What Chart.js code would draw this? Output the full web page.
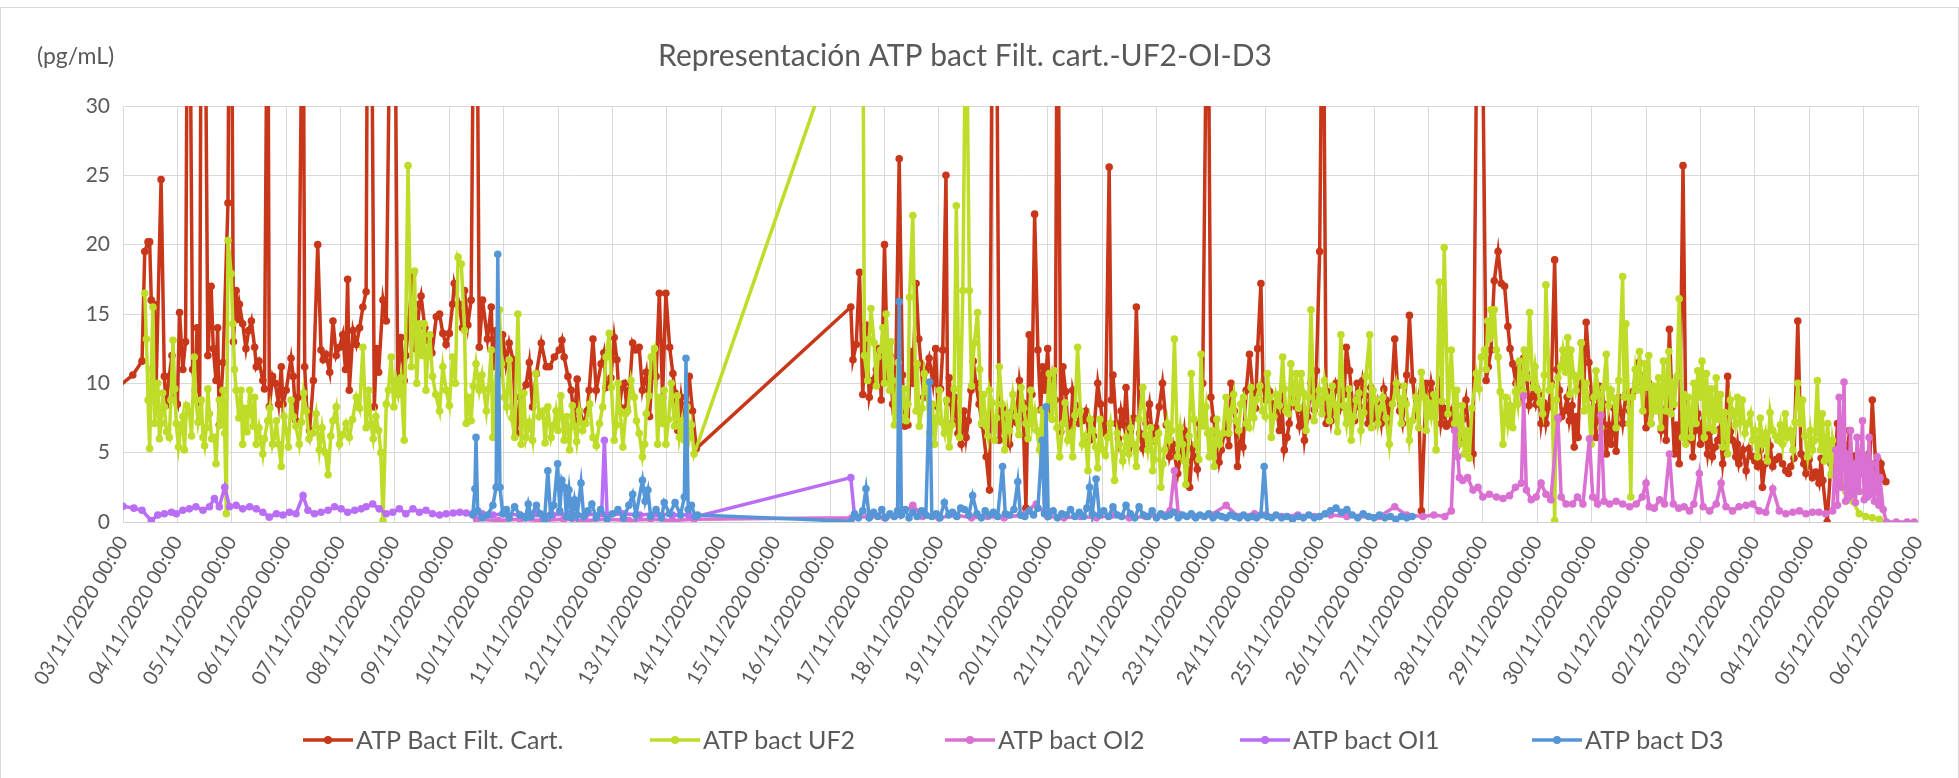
<!DOCTYPE html>
<html>
<head>
<meta charset="utf-8">
<script src="https://cdn.jsdelivr.net/npm/chart.js@4.4.1/dist/chart.umd.min.js"></script>
<style>
  html, body { margin: 0; padding: 0; background: #fff; }
  #wrap { width: 1959px; height: 778px; position: relative; }
</style>
</head>
<body>
<div id="wrap"><canvas id="grafico" width="1959" height="778"></canvas></div>
<script>
// Etiquetas del eje X (un tick por día, desde 03/11/2020)
const dayLabels = [
  '03/11/2020 00:00', '04/11/2020 00:00', '05/11/2020 00:00', '06/11/2020 00:00', '07/11/2020 00:00',
  '08/11/2020 00:00', '09/11/2020 00:00', '10/11/2020 00:00', '11/11/2020 00:00', '12/11/2020 00:00',
  '13/11/2020 00:00', '14/11/2020 00:00', '15/11/2020 00:00', '16/11/2020 00:00', '17/11/2020 00:00',
  '18/11/2020 00:00', '19/11/2020 00:00', '20/11/2020 00:00', '21/11/2020 00:00', '22/11/2020 00:00',
  '23/11/2020 00:00', '24/11/2020 00:00', '25/11/2020 00:00', '26/11/2020 00:00', '27/11/2020 00:00',
  '28/11/2020 00:00', '29/11/2020 00:00', '30/11/2020 00:00', '01/12/2020 00:00', '02/12/2020 00:00',
  '03/12/2020 00:00', '04/12/2020 00:00', '05/12/2020 00:00', '06/12/2020 00:00'
];
const yTicks = [0, 5, 10, 15, 20, 25, 30];

// Series: [días desde 03/11 00:00, pg/mL]  (se ordenan por tiempo al construir el gráfico)
const filtCart = [
  [-0.1,9.7],[0.18,10.6],[0.35,11.6],[0.4,19.5],[0.46,20.2],[0.49,20.2],[0.52,16],[0.57,15.7],[0.61,10],[0.7,24.7],
  [0.76,10.5],[0.79,8.4],[0.85,10.5],[0.95,9],[1.04,15.1],[1.1,11],[1.19,45],[1.22,45],[1.28,11],[1.41,8.6],
  [1.44,45],[1.5,45],[1.56,12],[1.62,17],[1.71,10.2],[1.77,7],[1.93,23],[1.96,45],[1.99,45],[2.08,16.7],
  [2.14,15.7],[2.2,14.3],[2.36,14.5],[2.42,12.6],[2.45,11.2],[2.57,10.2],[2.66,45],[2.69,8.3],[2.75,10.5],[2.91,11.2],
  [2.94,8.5],[3.09,11.8],[3.18,7.3],[3.31,45],[3.34,11.2],[3.43,6.6],[3.58,20],[3.64,12.4],[3.73,12.1],[3.86,14.5],
  [3.98,12.6],[4.13,17.5],[4.16,9.5],[4.23,13.8],[4.41,15.5],[4.47,16.6],[4.5,45],[4.56,45],[4.62,8.3],[4.78,16],
  [4.84,14.5],[4.93,45],[4.99,45],[5.05,10.2],[5.11,13.3],[5.17,10.2],[5.33,17.9],[5.45,15.7],[5.48,16.3],[5.6,13.1],
  [5.76,14.8],[5.88,13.6],[6,13.6],[6.06,15.7],[6.09,17.2],[6.18,15.7],[6.28,16.7],[6.4,16],[6.46,45],[6.5,45],
  [6.61,16],[6.77,15.5],[6.8,11.2],[6.92,10.7],[7.04,11.4],[7.17,11.7],[7.23,6.4],[7.41,9.9],[7.53,8.3],[7.69,12.9],
  [7.78,11.2],[7.84,11.2],[7.93,11.9],[8.02,12.4],[8.11,11.9],[8.18,10.5],[8.24,9.5],[8.3,7.3],[8.39,8],[8.48,7.1],
  [8.57,9.5],[8.64,13.2],[8.7,9.5],[8.79,11.4],[8.88,9.7],[8.97,10.4],[9.03,13.3],[9.13,8.3],[9.22,10],[9.31,9.5],
  [9.37,12.9],[9.43,12.4],[9.49,12.6],[9.55,9.5],[9.68,7.6],[9.8,10.5],[9.86,16.5],[9.92,9],[9.98,16.5],[10.05,12.6],
  [10.11,10.7],[10.2,6.6],[10.26,9],[10.32,7.1],[10.41,10.5],[10.47,8],[10.54,5.3],
  [13.38,15.5],[13.42,11.7],[13.54,18],[13.6,9.2],[13.72,9],[13.85,11],[13.94,8.8],[14,20],[14.06,10.2],[14.15,8.5],
  [14.27,26.2],[14.37,6.9],[14.43,7],[14.52,10],[14.58,17.2],[14.67,11.4],[14.76,10.9],[14.89,10],[14.98,8.3],[15.07,12.4],
  [15.13,25],[15.19,10.4],[15.25,7.1],[15.35,6.4],[15.41,5.6],[15.5,6.1],[15.59,9.5],[15.68,10],[15.87,4.7],[15.93,2.3],
  [15.99,45],[16.05,45],[16.11,5.9],[16.23,6.6],[16.36,8],[16.48,10.2],[16.6,1],[16.66,13.5],[16.76,22.2],[16.82,12.4],
  [16.91,11.2],[17,12.5],[17.09,10.2],[17.18,45],[17.28,11.2],[17.37,7.1],[17.46,9.5],[17.58,7.1],[17.64,7.3],[17.77,5.9],
  [17.92,10],[18.01,7.1],[18.13,25.6],[18.2,10.6],[18.26,7.1],[18.35,8],[18.44,9.7],[18.53,5.6],[18.63,15.5],[18.69,6.4],
  [18.81,7.1],[18.93,5.9],[19.05,8.3],[19.11,10],[19.24,4.7],[19.39,3.5],[19.51,6.6],[19.61,2.5],[19.7,4.7],[19.79,7.1],
  [19.85,10],[19.94,45],[20,9],[20.1,5.9],[20.19,5.2],[20.28,7.1],[20.37,10],[20.49,4],[20.59,5.4],[20.71,12.1],
  [20.77,9.5],[20.86,12.5],[20.92,17.2],[21.01,8.8],[21.14,7.8],[21.26,6.6],[21.35,5.2],[21.44,7.1],[21.57,8.3],[21.63,6.9],
  [21.72,5.9],[21.84,10],[21.94,10.9],[22,19.5],[22.06,45],[22.12,7.1],[22.21,7.3],[22.3,10],[22.39,8.3],[22.49,12.6],
  [22.55,10.9],[22.64,7.3],[22.73,8.3],[22.79,10.2],[22.89,7.1],[22.98,8.5],[23.07,8.5],[23.13,7.1],[23.22,8.8],[23.31,8.5],
  [23.38,13.2],[23.47,8],[23.56,8.8],[23.65,14.9],[23.71,10.2],[23.77,8],[23.87,0.8],[23.96,10],[24.05,10],[24.14,8.5],
  [24.23,7.1],[24.33,6.9],[24.39,7.1],[24.48,6.9],[24.57,5.9],[24.69,8.8],[24.82,4.9],[24.91,45],[24.97,45],[25.06,10.2],
  [25.15,12.4],[25.21,17.4],[25.28,19.5],[25.34,17.2],[25.4,17],[25.46,14.1],[25.55,11.4],[25.61,10],[25.7,9.5],[25.8,10.7],
  [25.89,9],[25.98,8.5],[26.07,7.1],[26.16,7.1],[26.26,10],[26.32,18.9],[26.41,9.5],[26.5,8],[26.59,7.3],[26.68,5.4],
  [26.75,6.1],[26.81,12.9],[26.9,14.4],[27,9],[27.08,6.1],[27.17,7.3],[27.27,4.9],[27.36,5.6],[27.45,5.1],[27.57,7.1],
  [27.7,8],[27.82,10],[27.91,10.5],[28,6.8],[28.09,7.1],[28.19,9.2],[28.28,6.6],[28.37,5.9],[28.43,13.9],[28.52,4.9],
  [28.61,4.2],[28.68,25.7],[28.77,5.9],[28.86,4.7],[28.95,7.8],[29.04,7.1],[29.13,4.9],[29.22,4.7],[29.32,5.9],[29.41,4.2],
  [29.5,10.5],[29.59,5.9],[29.65,4.7],[29.71,4.2],[29.84,3.7],[29.96,4.7],[30.05,4],[30.14,2.5],[30.23,4.7],[30.33,4],
  [30.45,4.7],[30.57,3.7],[30.66,4],[30.79,14.5],[30.85,4.9],[30.94,3.5],[31.06,3.2],[31.18,2.8],[31.25,3],[31.33,0],
  [31.4,4.2],[31.52,7.1],[31.64,5.6],[31.74,6.6],[31.8,3.5],[31.92,3.5],[32.04,4.7],[32.16,8.8],[32.23,3.5],[32.32,4.2],
  [32.41,2.9],
  [0.9,12],[1.0,8.5],[1.15,13],[1.33,9.5],[1.36,14],[1.66,12.5],[1.74,14],[1.84,11.5],[2.03,13],[2.11,14.6],
  [2.26,12.5],[2.31,13.8],[2.5,11.6],[2.6,9.6],[2.8,10],[2.86,8.5],[3.0,9.5],[3.13,10.5],[3.22,9],[3.38,8],
  [3.5,10.2],[3.68,11.7],[3.8,10.8],[3.92,12],[4.04,13.5],[4.09,11],[4.29,12.8],[4.35,14],[4.66,12.5],[4.7,10.8],
  [5.2,12],[5.25,14.4],[5.38,12.5],[5.55,14],[5.68,12.2],[5.82,15],[5.94,12.8],[6.24,14],[6.34,14.2],[6.55,12.6],
  [6.7,13.2],[6.86,13.8],[6.98,13.5],[7.1,12.9],[7.3,9],[7.47,11.5],[7.6,10.7],[8.07,13.1],[8.35,10.3],[8.53,8],
  [8.84,12.2],[9.08,11.7],[9.17,9.7],[9.26,8.3],[9.62,10.8],[9.74,11.5],[10.15,9.3],[10.36,8.5],
  [13.48,12.8],[13.66,14.2],[13.78,10.2],[13.9,12.5],[14.1,12],[14.2,9.3],[14.33,10.6],[14.48,12.3],[14.63,13.2],[14.72,9],
  [14.82,11.8],[14.94,12.5],[15.03,9.6],[15.16,8.6],[15.3,9],[15.46,8],[15.54,7.3],[15.63,11.6],[15.74,8.5],[15.8,7],
  [16.17,8.2],[16.3,5.6],[16.42,7.2],[16.54,8.6],[16.71,9.2],[16.87,8.1],[16.95,9.5],[17.05,7.8],[17.14,8.8],[17.24,6.5],
  [17.33,9.4],[17.42,6.2],[17.52,8.4],[17.7,8],[17.84,6.2],[17.97,8.5],[18.06,6.4],[18.17,8.8],[18.3,6],[18.4,7],
  [18.48,6.8],[18.58,7.5],[18.75,5.3],[18.87,8.5],[18.99,6.8],[19.18,7],[19.3,5.6],[19.45,5],[19.56,4.4],[19.66,5.3],
  [19.75,3.8],[20.05,7.4],[20.15,4.3],[20.24,6.3],[20.33,5.5],[20.43,8],[20.54,6.2],[20.65,9.5],[20.82,8.2],[20.96,9.7],
  [21.08,9.4],[21.2,8.6],[21.3,9.1],[21.4,6.1],[21.5,9.6],[21.68,8],[21.78,7.6],[21.9,8.1],
  [22.15,9.4],[22.25,8.4],[22.35,9.5],[22.45,9.2],[22.6,8.6],[22.69,10],[22.84,9.1],[22.94,9.7],[23.03,7.4],[23.18,9.6],
  [23.27,7.4],[23.43,9.8],[23.52,7.1],[23.6,10.6],[23.82,9],[24.0,8],[24.1,8.8],[24.19,9.6],[24.28,8.2],[24.44,8.1],
  [24.53,6.8],[24.63,7.4],[24.75,6.2],[25.1,11.2],[25.5,12.5],[25.65,11],[25.75,11.8],[25.85,8.4],[25.93,10],[26.03,9.2],
  [26.12,8.6],[26.21,8.3],[26.36,11],[26.45,7.6],[26.55,9],[26.64,8.4],[26.72,7.6],[26.86,10],[26.95,11.5],[27.04,8.3],
  [27.13,9.8],[27.22,8.5],[27.32,7],[27.41,8.2],[27.5,9],[27.63,9.2],[27.76,9.4],[27.87,11.5],[27.96,9.6],[28.05,10],
  [28.14,8.9],[28.24,8.5],[28.33,7.8],[28.48,8.3],[28.56,7],[28.73,7.6],[28.82,7.8],[28.9,6.6],[29.0,5.6],[29.09,6.2],
  [29.18,6.5],[29.27,5.4],[29.36,6.7],[29.45,5.4],[29.55,6.5],[29.68,5.6],[29.78,5.2],[29.9,5.3],[30.0,4.4],[30.1,5.2],
  [30.19,4.2],[30.28,5.5],[30.39,4.5],[30.51,4.2],[30.62,3.5],[30.72,4.6],[30.9,4.2],[31.0,4.5],[31.12,3.6],[31.22,4.6],
  [31.46,3.4],[31.58,3.8],[31.69,4.3],[31.86,4.8],[31.98,4],[32.1,3.2],[32.28,3.4]
];

const uf2 = [
  [0.4,16.5],[0.43,13.2],[0.46,8.8],[0.49,5.3],[0.55,15.5],[0.58,7.1],[0.64,10],[0.7,7.1],[0.76,8.3],[0.85,6.1],
  [0.92,13.1],[0.98,7.1],[1.07,6.9],[1.13,5.2],[1.22,8],[1.31,11.9],[1.34,8.8],[1.44,8.8],[1.47,6.1],[1.53,6.8],
  [1.59,7.8],[1.68,6.1],[1.71,4.2],[1.77,8.8],[1.84,9.5],[1.87,6.4],[1.9,0.6],[1.93,20.3],[1.99,17.9],[2.02,14.3],
  [2.08,9.5],[2.17,9.5],[2.2,5.6],[2.33,9.5],[2.39,6.9],[2.45,5.6],[2.57,4.9],[2.66,7.3],[2.75,5.6],[2.82,7.3],
  [2.91,4],[3,6.6],[3.09,8.8],[3.18,6.9],[3.24,5.6],[3.37,8],[3.49,6.4],[3.61,5.2],[3.77,3.4],[3.86,7.3],
  [3.98,5.6],[4.1,7.1],[4.16,6.1],[4.29,9],[4.41,12.6],[4.47,6.8],[4.56,7.1],[4.65,7.6],[4.74,5],[4.78,0.1],
  [4.84,8.5],[4.93,11.9],[5.02,10.2],[5.11,10.4],[5.17,5.9],[5.24,25.7],[5.3,11.2],[5.36,18.1],[5.45,14.3],[5.54,14.3],
  [5.6,11.9],[5.69,10.5],[5.82,8],[5.94,9.5],[6.06,11.9],[6.16,19.1],[6.22,18.6],[6.28,13.8],[6.31,7.1],[6.4,7.3],
  [6.49,11.4],[6.55,9.5],[6.68,8],[6.77,12.4],[6.8,6.1],[6.92,15.3],[7.01,9],[7.1,11.7],[7.2,6.1],[7.26,15],
  [7.32,5.6],[7.41,6.1],[7.53,5.9],[7.59,10.7],[7.72,8],[7.81,8.3],[7.87,6.1],[7.96,8],[8.05,9.1],[8.11,5.9],
  [8.21,5.2],[8.3,6.9],[8.39,8],[8.51,7.1],[8.64,6.1],[8.76,7.1],[8.82,8.3],[8.88,11.9],[8.94,13.6],[9.03,5.9],
  [9.1,10],[9.19,5.4],[9.28,8],[9.34,10.2],[9.4,9],[9.49,6.4],[9.55,4.7],[9.62,7.8],[9.71,11.9],[9.77,12.5],
  [9.83,5.6],[9.92,7.1],[9.98,5.6],[10.08,10],[10.14,6.9],[10.23,6.1],[10.32,5.9],[10.41,6.1],[10.5,4.9],
  [13.6,40],[13.63,12],[13.69,10.2],[13.75,15.4],[13.81,12.9],[13.88,11.9],[13.97,14],[14.03,15],[14.09,9.5],[14.15,10.2],
  [14.21,8],[14.3,7.6],[14.4,7.3],[14.46,16.2],[14.52,22.1],[14.58,8],[14.64,6.9],[14.73,10.7],[14.83,6.4],[14.92,5.6],
  [15.01,9.5],[15.1,6.4],[15.19,5.4],[15.32,22.8],[15.38,6.1],[15.44,16.7],[15.5,40],[15.56,16.7],[15.65,12.9],[15.71,15.1],
  [15.78,7.1],[15.87,6.9],[15.93,9.5],[16.02,5.9],[16.11,11.2],[16.21,5.2],[16.3,6.6],[16.42,7.6],[16.51,9.7],[16.6,7.1],
  [16.69,9.5],[16.76,8],[16.85,5.2],[16.94,5.6],[17.03,10.7],[17.12,10.9],[17.22,4.7],[17.28,7.1],[17.37,5.9],[17.46,4.7],
  [17.55,12.6],[17.64,5.6],[17.74,3.7],[17.83,6.6],[17.92,3.9],[18.01,5.2],[18.1,6.1],[18.23,3],[18.32,5.6],[18.44,6.1],
  [18.53,6.8],[18.63,4],[18.75,9.7],[18.84,5.2],[18.93,3.7],[18.99,5.9],[19.08,2.5],[19.15,5.2],[19.24,5.9],[19.33,13.2],
  [19.39,4.7],[19.48,5.6],[19.54,2.7],[19.64,10.7],[19.73,5.6],[19.82,12.1],[19.91,8.3],[19.97,4.7],[20.06,4],[20.16,5.6],
  [20.28,9],[20.37,8],[20.46,7.3],[20.55,8.5],[20.65,7.1],[20.74,9.7],[20.83,8.8],[20.95,8],[21.04,10.7],[21.11,6.1],
  [21.2,9.2],[21.32,11.9],[21.38,8],[21.47,11.4],[21.57,10.7],[21.66,10.7],[21.75,6.6],[21.84,15.3],[21.9,7.3],[21.99,9.5],
  [22.09,10.2],[22.18,7.3],[22.27,8.5],[22.39,13.5],[22.49,7.1],[22.58,5.9],[22.67,8.8],[22.76,6.6],[22.85,10.5],[22.92,13.5],
  [22.98,9.5],[23.07,7.1],[23.16,9],[23.28,5.6],[23.41,10],[23.5,7.1],[23.59,8.5],[23.65,5.9],[23.77,9],[23.87,10.8],
  [23.96,6.6],[24.05,7.6],[24.14,5.2],[24.2,17.3],[24.29,19.8],[24.36,7.8],[24.42,12.4],[24.48,7.1],[24.57,5.6],[24.66,4.9],
  [24.75,4.6],[24.88,10.7],[24.97,11.9],[25.03,12.4],[25.09,14.5],[25.15,15.3],[25.21,15.3],[25.28,11.9],[25.37,5.6],[25.46,7.1],
  [25.55,6.8],[25.64,8.5],[25.7,10],[25.76,12.4],[25.86,15.1],[25.92,9.7],[26.01,9.5],[26.1,7.8],[26.16,17.1],[26.22,9.5],
  [26.32,0.1],[26.38,10.4],[26.47,12.4],[26.56,13.3],[26.62,12.4],[26.71,9.5],[26.81,12.9],[26.9,10],[26.99,5.6],[27.08,10.9],
  [27.17,6.8],[27.27,12.1],[27.36,9.5],[27.45,6.8],[27.57,17.7],[27.63,14.3],[27.69,7.1],[27.72,1.8],[27.75,9],[27.84,9.5],
  [27.94,8],[28,9.7],[28.09,7.1],[28.18,8],[28.27,6.8],[28.37,8],[28.46,7.8],[28.52,8.5],[28.61,16.1],[28.67,6.1],
  [28.73,5.6],[28.83,6.1],[28.92,7.1],[28.98,9],[29.07,6.1],[29.16,6.8],[29.25,6.6],[29.32,7.4],[29.41,5.4],[29.5,4.9],
  [29.59,8],[29.68,9],[29.77,8.8],[29.87,7.1],[29.96,5.9],[30.05,4.7],[30.14,5.6],[30.23,4.4],[30.33,6.6],[30.42,5.9],
  [30.51,5.6],[30.6,6.1],[30.7,5.2],[30.79,10],[30.88,8.8],[30.97,4.7],[31.06,5.2],[31.15,10.2],[31.21,5.2],[31.28,4.4],
  [31.34,7.1],[31.4,3.4],[31.46,5.2],[31.55,4],[31.67,2.2],[31.8,1.5],[31.92,0.6],[32.04,0.4],[32.16,0.3],[32.29,0.2],
  [0.52,11],[0.61,8.5],[0.67,6],[0.73,9.3],[0.8,6.5],[0.88,8.8],[0.95,9.6],[1.02,5.4],[1.1,7.6],[1.17,8.4],
  [1.26,6.2],[1.38,7.2],[1.5,5.5],[1.56,9.6],[1.63,6],[1.81,7],[2.05,11],[2.13,7.5],[2.24,8.2],[2.28,6.5],
  [2.36,7.8],[2.42,9],[2.5,6.8],[2.6,6],[2.7,8.2],[2.79,6.2],[2.86,5.6],[2.96,7.6],[3.04,5.4],[3.13,7.6],
  [3.28,7.2],[3.32,9.3],[3.42,6],[3.55,7.8],[3.66,6.8],[3.72,5],[3.82,6.2],[3.92,8.3],[4.04,6.3],[4.22,7.4],
  [4.35,8.2],[4.52,9.5],[4.6,6],[4.7,6.6],[4.88,9.5],[4.98,8.3],[5.06,9.2],[5.4,10],[5.5,12],[5.57,9.5],
  [5.64,13.5],[5.75,9.2],[5.88,11.2],[6.0,8.4],[6.11,10],[6.35,9],[6.44,9.8],[6.6,10.6],[6.72,9.6],[6.85,10],
  [6.96,11.4],[7.05,8.3],[7.15,7.5],[7.37,9.3],[7.47,7.2],[7.65,7.6],[7.76,5.7],[7.92,7],[8.0,6.6],[8.16,7.6],
  [8.26,8.4],[8.34,5.8],[8.45,6.6],[8.58,8.5],[8.7,5.5],[8.98,9.7],[9.07,7],[9.14,8],[9.24,7.8],[9.44,7.3],
  [9.59,5.6],[9.67,9.1],[9.87,9],[9.95,9.5],[10.03,7.4],[10.19,9.1],[10.28,7.3],[10.37,8.3],[10.45,7],
  [13.72,13.2],[13.85,9.8],[13.93,12.4],[14.0,10],[14.12,13],[14.18,7],[14.25,11.5],[14.35,9.6],[14.43,8.5],[14.6,11.4],
  [14.69,8.2],[14.78,9.4],[14.88,8.5],[14.96,7.5],[15.05,7.2],[15.14,8.8],[15.24,7],[15.28,9.6],[15.6,9.8],[15.75,11],
  [15.82,9.2],[15.9,6.2],[15.98,8.6],[16.06,7.5],[16.16,8.5],[16.26,7.8],[16.36,9.2],[16.47,6.3],[16.56,8.2],[16.64,6],
  [16.72,7.1],[16.8,6.6],[16.9,8.1],[16.98,7.7],[17.08,7.4],[17.17,6.8],[17.32,8.6],[17.42,6.4],[17.5,7.7],[17.6,8],
  [17.69,6.2],[17.78,7.4],[17.88,5.4],[17.96,7.4],[18.06,4.8],[18.15,7.1],[18.28,6.4],[18.38,4.4],[18.49,4.9],[18.58,5.6],
  [18.68,7.4],[18.8,6.3],[18.89,6.8],[18.96,4.5],[19.04,6.4],[19.12,4.2],[19.2,7.1],[19.28,6.6],[19.44,6.8],[19.51,4.4],
  [19.6,6.2],[19.69,7.4],[19.78,4.5],[19.86,6.9],[19.94,6.4],[20.02,6.6],[20.11,7.4],[20.22,6.4],[20.33,6.4],[20.42,9.2],
  [20.51,6.6],[20.6,9],[20.7,6.8],[20.79,7.5],[20.9,9.8],[21.0,7.6],[21.08,9],[21.16,7.6],[21.26,8.4],[21.35,9.6],
  [21.43,7.8],[21.52,8.6],[21.61,8.2],[21.7,9.3],[21.8,9],[21.94,8.4],[22.04,7.8],[22.14,9],[22.23,9.8],[22.33,6.5],
  [22.44,8.4],[22.54,9.6],[22.63,7.6],[22.72,9.3],[22.81,7.9],[22.95,6.8],[23.03,8.8],[23.12,8.2],[23.22,7.5],[23.34,8.5],
  [23.46,8.9],[23.55,9.8],[23.7,7.3],[23.82,6.8],[23.92,9],[24.0,8.6],[24.1,9.2],[24.25,8.7],[24.52,9.5],[24.62,8.4],
  [24.7,6.6],[24.8,8.2],[24.93,9.6],[25.06,11],[25.12,13.2],[25.18,13.6],[25.25,12.4],[25.32,9.4],[25.42,9],[25.5,8.4],
  [25.6,9.4],[25.67,11.6],[25.74,9.4],[25.82,10.4],[25.96,11.2],[26.05,8.6],[26.13,10.6],[26.27,9.8],[26.35,8.8],[26.43,11.2],
  [26.52,10.8],[26.6,9.2],[26.67,10.6],[26.76,10.5],[26.86,8],[26.95,8.2],[27.04,9],[27.13,9.2],[27.22,9.7],[27.31,8.4],
  [27.41,8.9],[27.5,10.2],[27.6,9],[27.8,11],[27.88,12.3],[27.98,11.4],[28.05,12],[28.14,9.8],[28.23,10.4],[28.32,11.6],
  [28.42,12.3],[28.49,10.1],[28.57,10.5],[28.7,9.2],[28.78,9],[28.88,10],[28.95,10.9],[29.03,11.6],[29.11,10.7],[29.2,9.6],
  [29.29,10.4],[29.37,9.2],[29.45,7.9],[29.55,8.8],[29.64,7],[29.73,7.2],[29.82,6.4],[29.92,7.8],[30.0,6.6],[30.1,7.5],
  [30.19,6.4],[30.28,7.9],[30.38,6.2],[30.47,7],[30.56,7.8],[30.65,6.6],[30.74,7.2],[30.84,7.1],[30.92,6.2],[31.02,6.6],
  [31.1,5.9],[31.18,6.4],[31.24,7.8],[31.31,5.6],[31.37,4.8],[31.43,5.9],[31.5,4.3]
];

const oi2 = [
  [6.5,0.2],[6.9,0.1],[7.3,0.2],[7.7,0.1],[8.1,0.2],[8.5,0.1],[8.9,0.2],[9.3,0.1],[9.7,0.2],[10.1,0.1],
  [10.5,0.2],[13.4,0.3],[13.7,0.4],[14,0.3],[14.3,0.5],[14.52,1.2],[14.7,0.4],[15,0.3],[15.3,0.5],[15.6,0.3],
  [15.9,0.4],[16.2,0.3],[16.5,0.5],[16.79,1.3],[17,0.4],[17.3,0.3],[17.6,0.4],[17.9,0.3],[18.2,0.5],[18.5,0.3],
  [18.8,0.4],[19.1,0.5],[19.25,0.8],[19.33,3.7],[19.4,0.6],[19.7,0.4],[20,0.5],[20.28,1.2],[20.5,0.4],[20.8,0.6],
  [21,0.5],[21.3,0.4],[21.6,0.5],[21.9,0.4],[22.2,0.5],[22.5,0.4],[22.8,0.5],[23.1,0.4],[23.38,1.1],[23.6,0.5],
  [23.9,0.4],[24.1,0.5],[24.3,0.4],[24.42,0.8],[24.48,6.6],[24.54,4.7],[24.57,3.2],[24.63,3],[24.72,3.2],[24.82,2.3],
  [24.91,2.5],[25,1.8],[25.12,2],[25.25,1.8],[25.37,1.7],[25.49,1.9],[25.6,2.5],[25.71,2.8],[25.75,9.1],[25.8,2.3],
  [25.89,1.6],[25.98,1.8],[26.07,2.8],[26.16,2],[26.25,1.6],[26.38,7.5],[26.44,1.8],[26.53,1.3],[26.65,1.3],[26.74,1.8],
  [26.84,1.3],[26.96,6],[27.02,1.8],[27.11,1.3],[27.17,7.7],[27.23,1.5],[27.33,1.3],[27.45,1.5],[27.57,1.3],[27.7,1.1],
  [27.82,1.3],[27.93,1.8],[28,2.8],[28.06,1.1],[28.15,1],[28.25,1.6],[28.34,1.3],[28.43,4.9],[28.5,1.3],[28.6,1],
  [28.7,1.1],[28.8,0.8],[28.88,1.3],[28.98,3.5],[29.05,1.1],[29.17,0.8],[29.29,1.3],[29.38,2.8],[29.47,1.1],[29.59,0.8],
  [29.71,1.1],[29.84,1.2],[29.96,1.3],[30.08,0.8],[30.2,0.7],[30.33,2.4],[30.45,0.8],[30.57,0.6],[30.7,0.7],[30.82,0.8],
  [30.94,0.6],[31.06,0.7],[31.18,0.7],[31.3,0.6],[31.43,0.8],[31.49,5.2],[31.52,1.2],[31.55,9],[31.59,2.5],[31.64,10.1],
  [31.67,1.5],[31.7,4.9],[31.73,1.8],[31.76,6.6],[31.79,2],[31.82,4.2],[31.85,1.4],[31.88,6.1],[31.92,2.2],[31.98,7.3],
  [32.01,1.6],[32.04,4.7],[32.07,1.8],[32.1,6.1],[32.13,2],[32.16,4.2],[32.2,1.5],[32.25,4.7],[32.28,1.2],[32.3,3.2],
  [32.36,0.9],[32.42,0],[32.6,0],[32.8,0],[32.93,0]
];

const oi1 = [
  [0,1.13],[0.2,1],[0.35,0.85],[0.52,0.1],[0.64,0.5],[0.76,0.6],[0.89,0.7],[0.98,0.6],[1.1,0.85],[1.22,0.95],
  [1.34,1.1],[1.47,0.85],[1.59,1.1],[1.68,1.7],[1.77,1.1],[1.87,2.5],[1.96,1.1],[2.08,1.2],[2.2,0.95],[2.33,1.1],
  [2.45,0.95],[2.57,0.7],[2.69,0.35],[2.82,0.6],[2.94,0.5],[3.06,0.7],[3.18,0.6],[3.31,1.9],[3.4,0.85],[3.52,0.6],
  [3.64,0.7],[3.77,0.85],[3.89,1.1],[4.01,0.95],[4.13,0.7],[4.26,0.85],[4.38,0.95],[4.47,1.1],[4.59,1.3],[4.71,0.95],
  [4.84,0.6],[4.96,0.7],[5.08,0.95],[5.2,0.6],[5.33,0.95],[5.45,0.7],[5.57,0.85],[5.69,0.6],[5.82,0.5],[5.94,0.6],
  [6.07,0.65],[6.19,0.7],[6.31,0.65],[6.43,0.6],[6.6,0.6],[6.8,0.5],[7,0.6],[7.3,0.5],[7.6,0.6],[7.9,0.5],
  [8.2,0.6],[8.5,0.5],[8.8,0.6],[8.85,5.9],[8.9,0.5],[9.2,0.6],[9.5,0.5],[9.8,0.6],[10.1,0.5],[10.4,0.5],
  [10.55,0.4],[13.38,3.2],[13.45,0.4]
];

const d3 = [
  [6.43,0.5],[6.47,2.4],[6.49,6.1],[6.52,0.8],[6.6,0.3],[6.7,0.5],[6.8,1.2],[6.86,2.5],[6.89,19.3],[6.93,2.5],
  [6.98,0.6],[7.05,0.9],[7.1,0.3],[7.2,1.1],[7.3,0.5],[7.4,0.3],[7.45,1.3],[7.5,0.4],[7.6,1.2],[7.67,0.6],
  [7.75,0.2],[7.81,3.7],[7.86,0.5],[7.92,1.2],[7.99,4.2],[8.03,0.8],[8.07,3],[8.12,2.5],[8.15,0.4],[8.2,2.3],
  [8.25,0.3],[8.3,1.6],[8.35,0.5],[8.42,2.8],[8.47,0.4],[8.55,0.8],[8.62,1.3],[8.7,0.3],[8.78,0.9],[8.9,0.2],
  [9,0.6],[9.1,0.9],[9.2,0.3],[9.3,1.2],[9.37,2],[9.43,0.5],[9.55,3],[9.6,1.5],[9.65,2.3],[9.7,0.4],
  [9.8,0.9],[9.9,0.3],[9.95,1.4],[10.05,0.6],[10.15,1.4],[10.25,0.5],[10.32,1.8],[10.35,11.8],[10.39,0.9],[10.45,1.2],
  [10.52,0.4],[10.56,0.5],[13.38,0.05],[13.45,0.6],[13.52,0.3],[13.6,0.8],[13.66,2.4],[13.72,0.3],[13.8,0.7],[13.88,0.4],
  [13.95,0.9],[14.02,0.3],[14.1,0.6],[14.18,0.4],[14.24,0.8],[14.27,15.9],[14.31,0.5],[14.38,0.9],[14.45,0.3],[14.52,0.7],
  [14.6,0.4],[14.68,0.8],[14.76,0.5],[14.83,10.1],[14.87,0.4],[14.95,0.6],[15.02,0.3],[15.1,1.4],[15.18,0.5],[15.25,0.7],
  [15.33,0.4],[15.4,1],[15.47,0.9],[15.55,0.5],[15.62,1.9],[15.7,0.6],[15.78,0.3],[15.85,0.8],[15.93,0.5],[16,0.7],
  [16.08,0.4],[16.17,4],[16.22,0.6],[16.3,0.5],[16.38,0.9],[16.45,2.9],[16.5,0.5],[16.58,0.4],[16.66,0.8],[16.74,0.5],
  [16.82,1],[16.9,5.9],[16.94,0.6],[16.97,8.3],[17.01,0.4],[17.1,0.8],[17.18,0.3],[17.26,0.6],[17.34,0.5],[17.42,0.9],
  [17.5,0.4],[17.58,0.7],[17.66,0.4],[17.72,1],[17.77,2.5],[17.82,0.6],[17.89,3.1],[17.95,0.5],[18.03,0.8],[18.12,0.4],
  [18.2,1.1],[18.28,0.5],[18.36,0.4],[18.44,1.2],[18.52,0.6],[18.6,0.3],[18.68,1.1],[18.76,0.5],[18.84,0.4],[18.92,0.8],
  [19,0.3],[19.08,0.6],[19.16,0.4],[19.24,0.5],[19.32,0.7],[19.4,0.3],[19.48,0.5],[19.56,0.4],[19.64,0.6],[19.72,0.3],
  [19.8,0.5],[19.88,0.4],[19.96,0.6],[20.04,0.3],[20.12,0.5],[20.2,0.4],[20.28,0.3],[20.36,0.5],[20.44,0.4],[20.52,0.3],
  [20.6,0.5],[20.68,0.3],[20.76,0.4],[20.84,0.3],[20.92,0.5],[20.98,4],[21.04,0.4],[21.12,0.3],[21.2,0.5],[21.3,0.3],
  [21.4,0.4],[21.5,0.2],[21.6,0.4],[21.7,0.3],[21.8,0.5],[21.9,0.3],[22,0.4],[22.1,0.6],[22.2,0.8],[22.3,1],
  [22.4,0.7],[22.5,0.9],[22.6,0.5],[22.7,0.3],[22.8,0.6],[22.9,0.4],[23,0.3],[23.1,0.5],[23.2,0.3],[23.3,0.4],
  [23.4,0.2],[23.5,0.4],[23.6,0.3],[23.7,0.4]
];

// Colores de las series
const colores = {
  filt: 'rgb(200, 55, 25)',
  uf2: 'rgb(190, 220, 40)',
  oi2: 'rgb(218, 112, 210)',
  oi1: 'rgb(185, 110, 245)',
  d3: 'rgb(85, 150, 215)'
};

const series = [
  { label: 'ATP Bact Filt. Cart.', data: filtCart, color: colores.filt, order: 5 },
  { label: 'ATP bact UF2', data: uf2, color: colores.uf2, order: 4 },
  { label: 'ATP bact OI2', data: oi2, color: colores.oi2, order: 3 },
  { label: 'ATP bact OI1', data: oi1, color: colores.oi1, order: 2 },
  { label: 'ATP bact D3', data: d3, color: colores.d3, order: 1 }
];

const textoGris = '#595959';
const fuente = 'Lato, "Liberation Sans", sans-serif';

// Título, unidad, leyenda y marco (estilo Excel)
const decoracion = {
  id: 'decoracion',
  beforeDraw(chart) {
    const ctx = chart.ctx;
    ctx.save();
    ctx.fillStyle = '#ffffff';
    ctx.fillRect(0, 0, chart.width, chart.height);
    ctx.strokeStyle = '#d9d9d9';
    ctx.lineWidth = 1;
    ctx.strokeRect(0.5, 7.5, chart.width - 1, chart.height + 10);
    ctx.restore();
  },
  afterDraw(chart) {
    const ctx = chart.ctx;
    ctx.save();
    ctx.fillStyle = textoGris;
    ctx.textBaseline = 'middle';
    ctx.font = '30px ' + fuente;
    ctx.textAlign = 'center';
    ctx.fillText('Representación ATP bact Filt. cart.-UF2-OI-D3', 965, 56);
    ctx.font = '23px ' + fuente;
    ctx.textAlign = 'left';
    ctx.fillText('(pg/mL)', 37, 57);

    const xs = [303, 650, 945, 1240, 1532];
    const y = 740;
    series.forEach(function(s, i) {
      const x = xs[i];
      ctx.strokeStyle = s.color;
      ctx.lineWidth = 3.5;
      ctx.beginPath();
      ctx.moveTo(x, y);
      ctx.lineTo(x + 50, y);
      ctx.stroke();
      ctx.fillStyle = s.color;
      ctx.beginPath();
      ctx.arc(x + 25, y, 4, 0, Math.PI * 2);
      ctx.fill();
      ctx.fillStyle = textoGris;
      ctx.font = '25px ' + fuente;
      ctx.fillText(s.label, x + 53, y + 1);
    });
    ctx.restore();
  }
};

const ctx = document.getElementById('grafico').getContext('2d');
new Chart(ctx, {
  type: 'line',
  data: {
    datasets: series.map(function(s) {
      const puntos = s.data.slice().sort(function(a, b) { return a[0] - b[0]; });
      return {
        label: s.label,
        data: puntos.map(function(p) { return { x: p[0], y: p[1] }; }),
        borderColor: s.color,
        backgroundColor: s.color,
        borderWidth: 3.5,
        pointRadius: 3.8,
        pointHoverRadius: 3.8,
        pointBorderWidth: 0,
        tension: 0,
        fill: false,
        order: s.order
      };
    })
  },
  options: {
    responsive: false,
    animation: false,
    layout: { padding: { top: 106, right: 41, bottom: 0, left: 0 } },
    plugins: {
      legend: { display: false },
      title: { display: false },
      tooltip: { enabled: false }
    },
    scales: {
      x: {
        type: 'linear',
        min: 0,
        max: 33,
        afterFit: function(scale) { scale.height = 256; },
        afterBuildTicks: function(scale) {
          scale.ticks = dayLabels.map(function(_, i) { return { value: i }; });
        },
        ticks: {
          autoSkip: false,
          minRotation: 60,
          maxRotation: 60,
          padding: 10,
          color: textoGris,
          font: { family: fuente, size: 20 },
          callback: function(value) { return dayLabels[value]; }
        },
        grid: { color: '#d9d9d9', drawTicks: false },
        border: { color: '#d0d0d0' }
      },
      y: {
        min: 0,
        max: 30,
        afterFit: function(scale) { scale.width = 123; },
        afterBuildTicks: function(scale) {
          scale.ticks = yTicks.map(function(v) { return { value: v }; });
        },
        ticks: {
          padding: 13,
          color: textoGris,
          font: { family: fuente, size: 21 }
        },
        grid: { color: '#d9d9d9', drawTicks: false },
        border: { display: false }
      }
    }
  },
  plugins: [decoracion]
});
</script>
</body>
</html>
